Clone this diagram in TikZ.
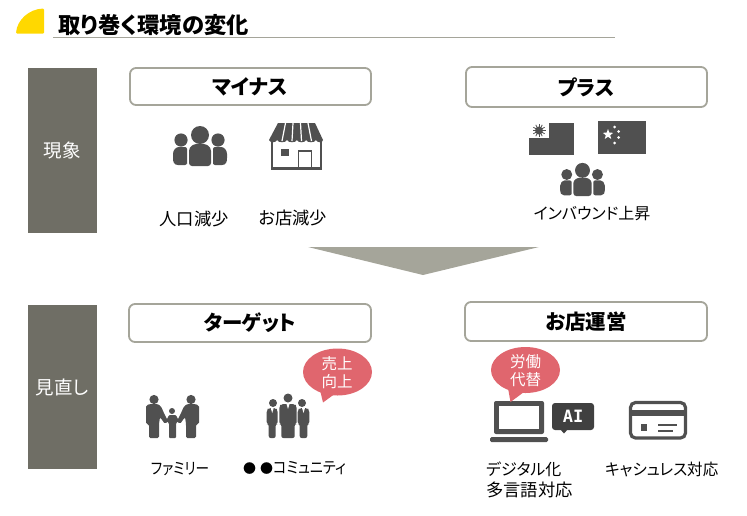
\documentclass[tikz,border=0pt]{standalone}
\usepackage{fontspec}
\usepackage{graphicx}
\usetikzlibrary{shapes.geometric}
\newfontfamily\cjk[RawFeature=+palt]{Noto Sans CJK JP}
\definecolor{bar}{HTML}{6F6E65}
\definecolor{edge}{HTML}{A5A59A}
\definecolor{ico}{HTML}{505050}
\definecolor{bub}{HTML}{E0666E}
\definecolor{sun}{HTML}{FFD800}
\tikzset{
  x=1pt,y=-1pt,
  sidebar/.style={fill=bar,draw=none},
  headbox/.style={draw=edge,line width=1.8pt,rounded corners=6pt,fill=white},
  headtxt/.style={font=\cjk\bfseries\fontsize{20.5}{24}\selectfont,text=black,inner sep=0pt},
  sidetxt/.style={font=\cjk\fontsize{18.5}{20}\selectfont,text=white,inner sep=0pt},
  lab/.style={font=\cjk\fontsize{16}{20}\selectfont,text=black,inner sep=0pt},
  labk/.style={font=\cjk\fontsize{17.3}{20}\selectfont,text=black,inner sep=0pt},
  bubtxt/.style={font=\cjk\fontsize{15.5}{18}\selectfont,text=white,inner sep=0pt,align=center},
  pics/crowd/.style={code={
    \fill[ico] (0,-11) circle (9);
    \fill[ico] (-19,-6) circle (6.6);
    \fill[ico] (18,-6) circle (6.6);
    \fill[ico,rounded corners=3pt] (-11,20) -- (-11,8) .. controls (-11,0) and (-6,-2) .. (0,-2) .. controls (6,-2) and (11,0) .. (11,8) -- (11,20) -- cycle;
    \fill[ico,rounded corners=2pt] (-13,19) -- (-20,19) .. controls (-26,19) and (-27,16) .. (-27,10) .. controls (-27,4) and (-24,1) .. (-19,1) -- (-13,1) .. controls (-13,6) and (-13,10) .. (-13,19) -- cycle;
    \fill[ico,rounded corners=2pt] (13,19) -- (20,19) .. controls (26,19) and (27,16) .. (27,10) .. controls (27,4) and (24,1) .. (19,1) -- (13,1) .. controls (13,6) and (13,10) .. (13,19) -- cycle;
  }},
}
\begin{document}
\begin{tikzpicture}
\useasboundingbox (0,0) rectangle (747,515);
% title
\fill[sun,rounded corners=1pt] (16,33.5) .. controls (17,20) and (29,9) .. (44,8.5) -- (44,33.5) -- cycle;
\coordinate (tl) at (53,37.5);
\coordinate (tr) at (615,37.5);
\draw[edge,line width=.8pt] (tl) -- (tr);
\node[font=\cjk\bfseries\fontsize{22.3}{24}\selectfont,anchor=west,inner sep=0pt] (title) at (58.5,25) {取り巻く環境の変化};
% side bars
\fill[sidebar] (28,68) rectangle (97,233);
\fill[sidebar] (28,305) rectangle (97,469);
\node[sidetxt] (s1) at (62,150) {現象};
\node[sidetxt] (s2) at (62,387) {見直し};
% header boxes
\draw[headbox] (130,68) rectangle (371,105);
\draw[headbox] (466,67) rectangle (707,107);
\draw[headbox] (129,304) rectangle (371,342);
\draw[headbox] (465,302) rectangle (707,341);
\node[headtxt] (h1) at (250,87) {マイナス};
\node[headtxt] (h2) at (586,87) {プラス};
\node[headtxt] (h3) at (250,323) {ターゲット};
\node[headtxt] (h4) at (586,322) {お店運営};
% triangle
\fill[edge] (308,247) -- (539,247) -- (423,275) -- cycle;
% crowd 1
\pic at (200,146) {crowd};
\pic[scale=.83] at (582.5,179.5) {crowd};
% store
\draw[ico,line width=2.8pt] (272,140) -- (272,168.5) -- (321,168.5) -- (321,140);
\fill[ico] (278,123) -- (315,123) -- (323,140) .. controls (323,143) and (317,143) .. (316,140) .. controls (315,143) and (307,143) .. (306,140) .. controls (305,143) and (298,143) .. (297,140) .. controls (296,143) and (288,143) .. (287,140) .. controls (286,143) and (278,143) .. (277,140) .. controls (276,143) and (270,143) .. (269,140) -- cycle;
\draw[white,line width=1.2pt] (285.5,123) -- (282,141) (293,123) -- (292,141) (300.5,123) -- (301.5,141) (308,123) -- (311.5,141);
\fill[ico] (281,149) rectangle (289,156);
\draw[ico,line width=1.8pt] (298.5,168) -- (298.5,151) -- (311.5,151) -- (311.5,168);
% Taiwan flag
\fill[ico] (529,123) rectangle (574,155);
\fill[white] (529,123) rectangle (549,138);
\foreach \a in {0,30,...,330} \draw[ico,line width=.8pt] (539,130.5) -- +(\a:6.5);
\fill[ico] (539,130.5) circle (4);
% China flag
\fill[ico] (598,121) rectangle (646,154);
\node[star,star points=5,star point ratio=2.4,fill=white,inner sep=0pt,minimum size=11pt] (bigstar) at (608,134.5) {};
\foreach \p/\q in {614.5/127,618.5/131.5,618.5/137.5,614.5/143} \fill[white] (\p,\q) circle (1.5);
% labels upper
\node[labk] (l1) at (194,219) {人口減少};
\node[labk] (l2) at (293,218) {お店減少};
\node[lab] (l3) at (592,214) {インバウンド上昇};
% family
\fill[ico] (154,399.5) circle (4.6);
\fill[ico] (191,399.5) circle (4.6);
\fill[ico] (172,411) circle (3);
\fill[ico,rounded corners=1.5pt] (149,438) -- (149,424) -- (146,424) -- (146,408) .. controls (146,405) and (149,404) .. (154,404) .. controls (159,404) and (161,406) .. (163,411) -- (168,421) -- (165,424) -- (160,417) -- (159,424) -- (159,438) -- cycle;
\fill[ico,rounded corners=1.5pt] (196,438) -- (196,424) -- (199,424) -- (199,408) .. controls (199,405) and (196,404) .. (191,404) .. controls (186,404) and (184,406) .. (182,411) -- (177,421) -- (180,424) -- (185,417) -- (186,424) -- (186,438) -- cycle;
\fill[ico,rounded corners=1pt] (169,438) -- (169,423) -- (166,421) -- (169,415) -- (176,415) -- (179,421) -- (176,423) -- (176,438) -- cycle;
% team
\foreach \hx/\cx/\r/\t/\hw/\hy in {273/272.2/4/408/5.5/403,302/303.5/4/408/5.8/403,288/288/4.5/404/8.7/398}{
  \fill[ico] (\hx,\hy) circle (\r);
  \fill[ico,rounded corners=2pt] (\cx-\hw,424) -- (\cx-\hw,\t+2) -- (\cx-\hw+2,\t) -- (\cx+\hw-2,\t) -- (\cx+\hw,\t+2) -- (\cx+\hw,424) -- (\cx+\hw-2,424) -- (\cx+\hw-2,438) -- (\cx-\hw+2,438) -- (\cx-\hw+2,424) -- cycle;
  \fill[white] (\cx-1.5,\t) -- (\cx+1.5,\t) -- (\cx,\t+5) -- cycle;
}
\node[lab] (l4) at (180,469) {\scalebox{.85}[1]{ファミリー}};
\node[lab,anchor=west] (l5) at (243,468) {{\fontsize{13}{16}\selectfont ●\hspace{4pt}●}\scalebox{.88}[1]{コミュニティ}};
% bubble 1
\fill[bub] (337.5,372) ellipse [x radius=34.5,y radius=23.5];
\fill[bub] (320,390) -- (323,402.5) -- (336,393) -- cycle;
\node[bubtxt] (b1) at (337,373) {売上\\向上};
% laptop
\fill[ico,rounded corners=2pt] (494,401) rectangle (544,434);
\fill[white] (499,406) rectangle (539,429);
\fill[ico,rounded corners=1.5pt] (490,437) rectangle (548,442);
% bubble 2
\fill[bub] (525.5,370) ellipse [x radius=34.5,y radius=23];
\fill[bub] (508,388) -- (510.5,402) -- (524,392) -- cycle;
\node[bubtxt] (b2) at (525.5,371) {労働\\代替};
% AI
\fill[ico!80!black,rounded corners=3pt] (552,403) rectangle (594,430);
\fill[ico!80!black] (560,429) -- (568,429) -- (564,433.5) -- cycle;
\node[font=\fontspec{DejaVu Sans Mono}\bfseries\fontsize{17}{18}\selectfont,text=white,inner sep=0pt] (ai) at (573,416.5) {AI};
% card
\draw[ico,line width=3.2pt,rounded corners=5pt] (630.5,402.5) rectangle (685.5,438);
\fill[ico] (630.5,410) rectangle (685.5,416);
\fill[ico] (641,424) rectangle (647,431);
\draw[ico,line width=1.6pt] (658,425) -- (677,425) (658,431) -- (673,431);
% lower labels
\node[lab,anchor=west] (l6) at (486,469) {デジタル化};
\node[labk,anchor=west] (l7) at (486,490) {多言語対応};
\node[lab,anchor=west] (l8) at (605,469) {\scalebox{.97}[1]{キャシュレス対応}};
\end{tikzpicture}
\end{document}
